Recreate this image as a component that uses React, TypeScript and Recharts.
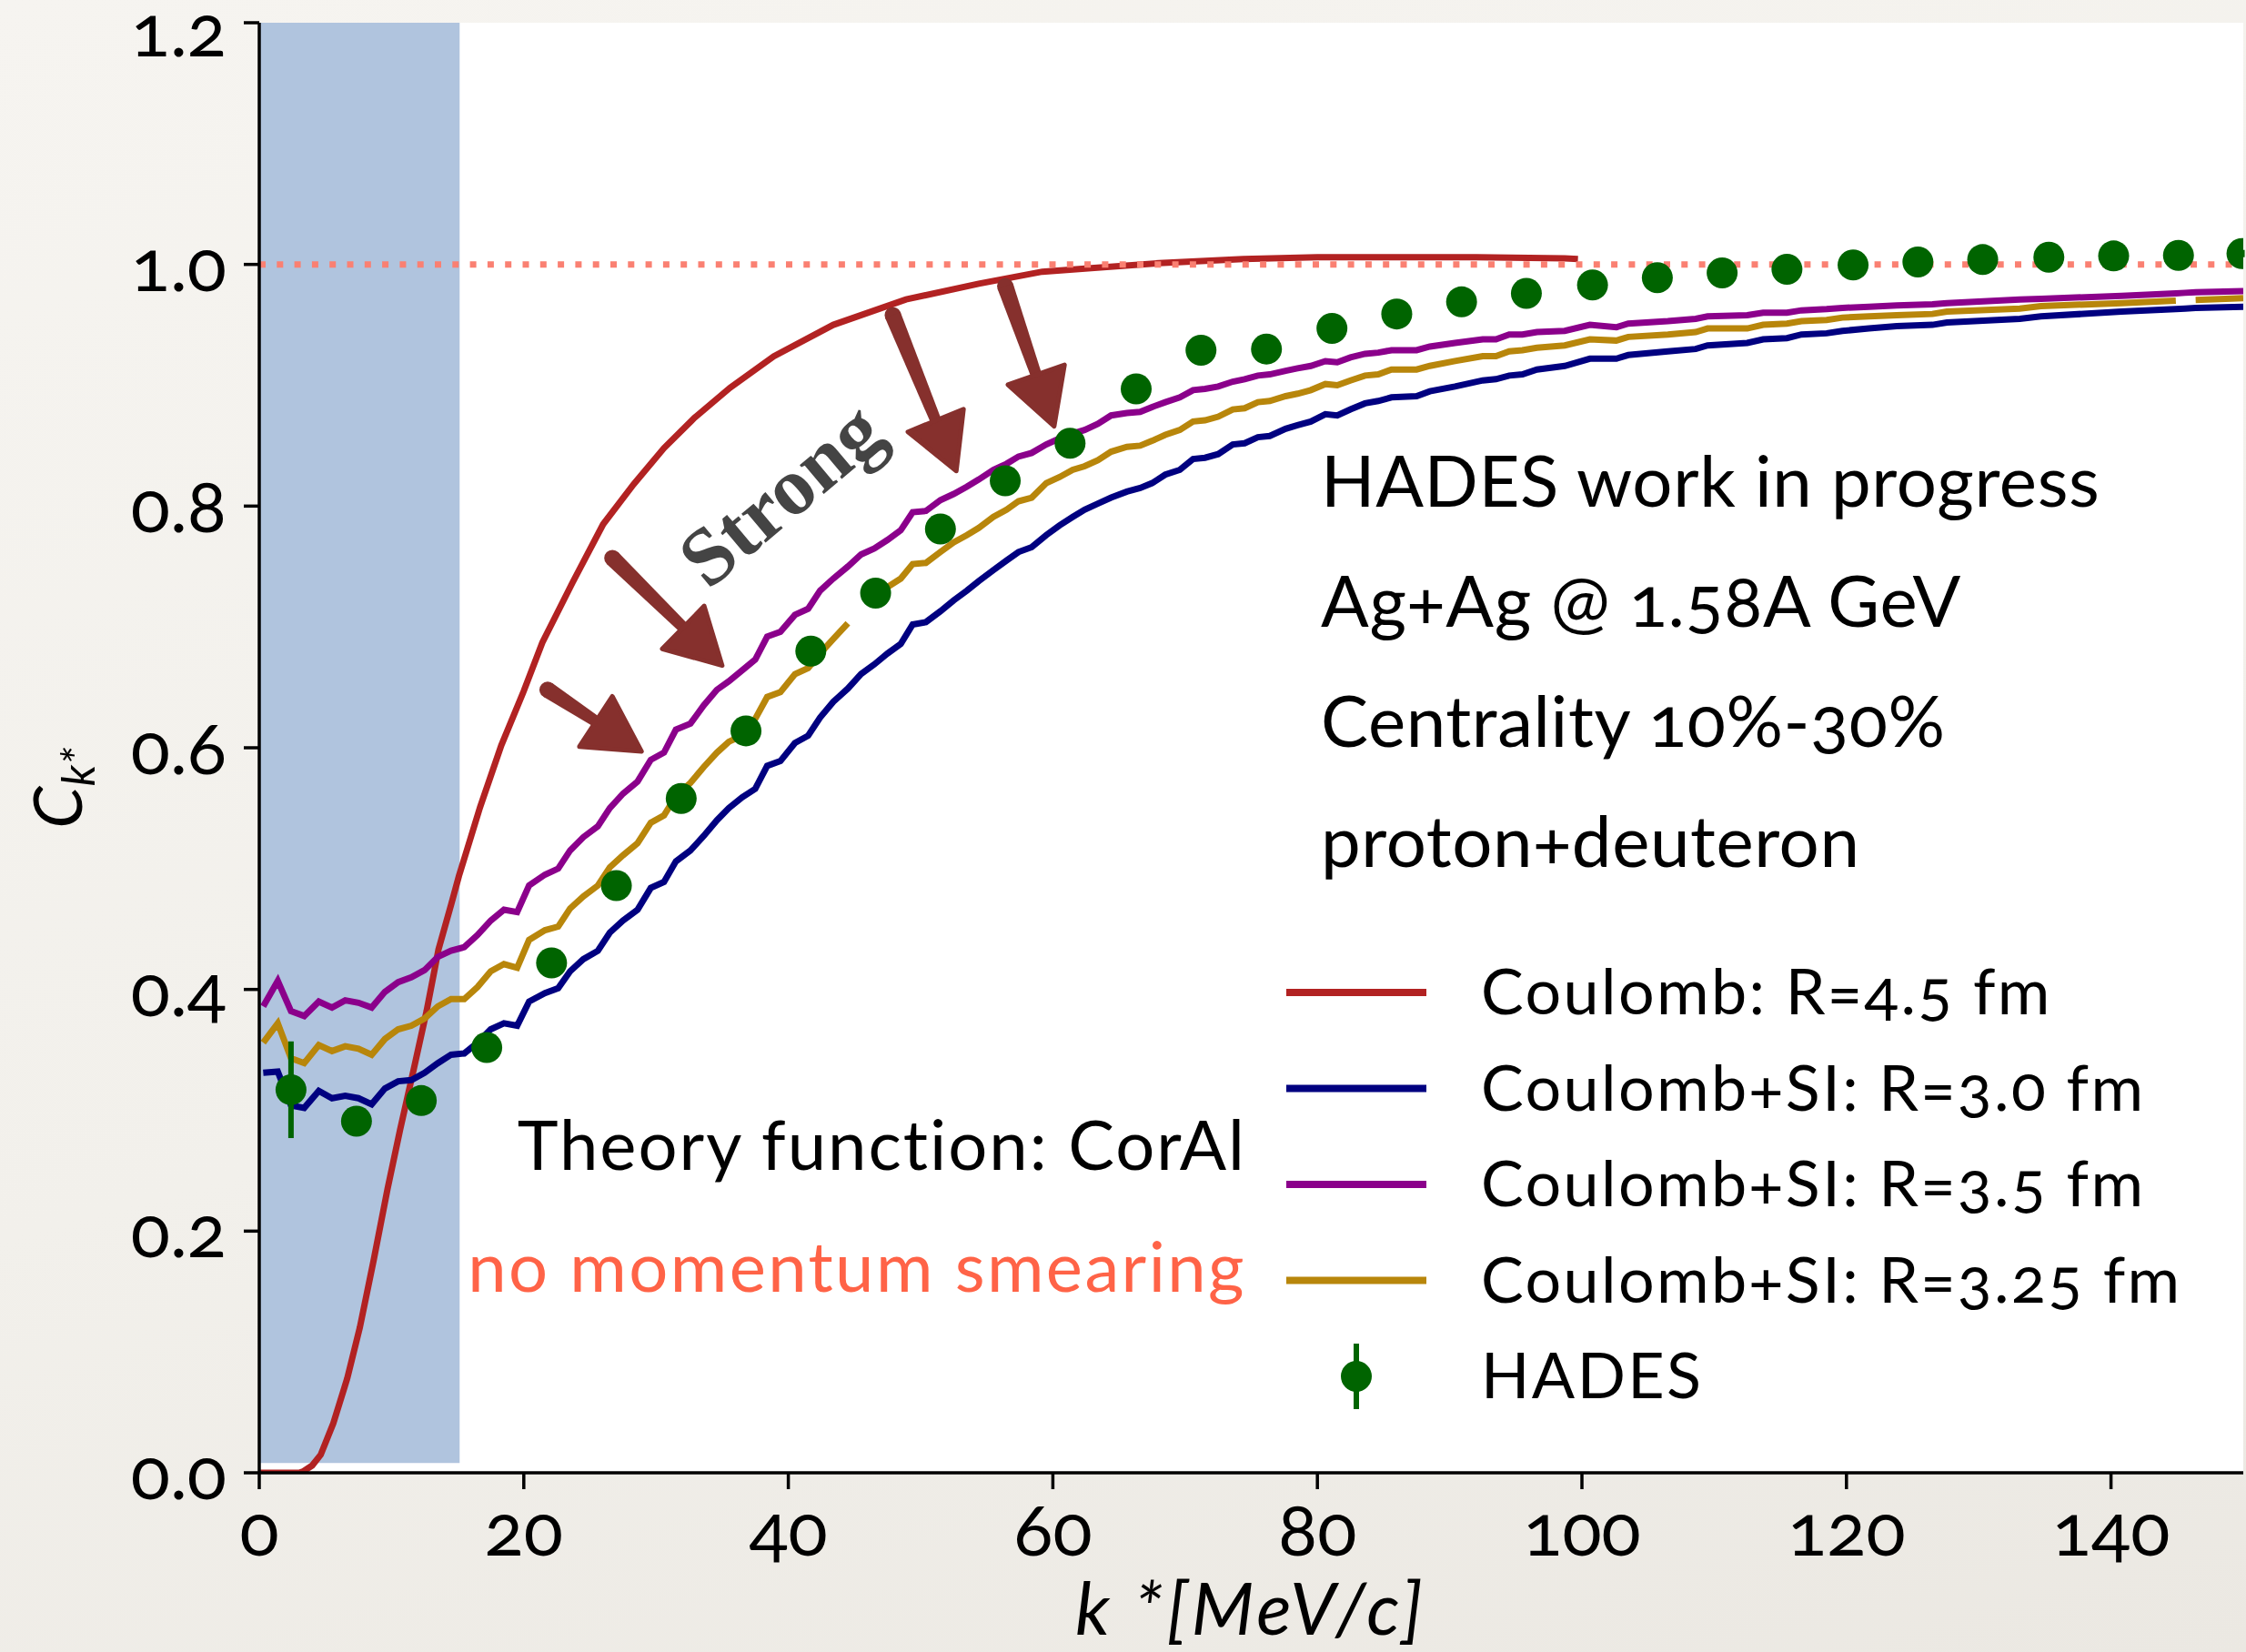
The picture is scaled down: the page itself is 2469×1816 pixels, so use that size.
import { createContext, useContext, useState } from 'react'
import { createPortal } from 'react-dom'
import {
  ComposedChart,
  ErrorBar,
  Line,
  ReferenceArea,
  ReferenceDot,
  ReferenceLine,
  Scatter,
  XAxis,
  YAxis,
} from 'recharts'

const FONT = 'Lato'
const W = 2469
const H = 1816
const TICK_SIZE = 80
const OLDSTYLE = { fontVariantNumeric: 'oldstyle-nums', fontFeatureSettings: '"onum" 1' } as const

// Coulomb-only CorAl curve, R = 4.5 fm
const coulombK = [
  0, 1, 2, 3, 3.3, 4, 4.65, 5.6, 6.65, 7.6, 8.65, 9.7, 10.65, 11.7, 12.65, 13.55, 14.5, 15.1, 16.7,
  18.3, 20, 21.4, 23.7, 26, 28.3, 30.6, 32.9, 35.6, 38.9, 43.4, 48.9, 54.4, 59.2, 62.9, 68, 74.4, 80,
  85.8, 92, 98.7, 99.7,
]
const coulombC = [
  0, 0, 0, 0, 0.001, 0.006, 0.015, 0.041, 0.078, 0.12, 0.176, 0.235, 0.284, 0.335, 0.382, 0.433, 0.47,
  0.494, 0.551, 0.602, 0.647, 0.687, 0.737, 0.785, 0.818, 0.848, 0.873, 0.898, 0.924, 0.95, 0.971,
  0.984, 0.994, 0.997, 1.001, 1.0045, 1.006, 1.006, 1.006, 1.005, 1.0045,
]

// Coulomb + strong interaction curves share one k* grid
const siK = [
  0.3, 1.4, 2.4, 3.4, 4.5, 5.5, 6.5, 7.5, 8.5, 9.5,
  10.5, 11.5, 12.5, 13.5, 14.5, 15.5, 16.5, 17.5, 18.5, 19.5,
  20.4, 21.6, 22.6, 23.5, 24.5, 25.6, 26.5, 27.5, 28.6, 29.6,
  30.6, 31.5, 32.6, 33.6, 34.6, 35.5, 36.5, 37.5, 38.4, 39.4,
  40.5, 41.5, 42.4, 43.4, 44.5, 45.5, 46.5, 47.5, 48.5, 49.4,
  50.4, 51.5, 52.5, 53.5, 54.4, 55.5, 56.5, 57.4, 58.4, 59.5,
  60.5, 61.5, 62.4, 63.4, 64.4, 65.6, 66.6, 67.5, 68.5, 69.6,
  70.6, 71.5, 72.5, 73.6, 74.5, 75.5, 76.4, 77.6, 78.5, 79.5,
  80.6, 81.5, 82.5, 83.6, 84.6, 85.6, 87.5, 88.5, 90.4, 92.5,
  93.5, 94.5, 95.5, 96.6, 98.7, 100.6, 102.6, 103.5, 106.5, 108.6,
  109.5, 112.5, 113.7, 115.5, 116.6, 118.5, 119.7, 121.7, 123.8, 126.5,
  127.6, 133.1, 134.7, 140.8, 144.9, 145.6, 146.4, 150,
]
const si30C = [
  0.331, 0.332, 0.304, 0.302, 0.316, 0.31, 0.312, 0.31, 0.305, 0.318,
  0.324, 0.325, 0.331, 0.339, 0.346, 0.347, 0.356, 0.367, 0.372, 0.37,
  0.39, 0.397, 0.401, 0.415, 0.425, 0.432, 0.447, 0.457, 0.466, 0.484,
  0.489, 0.506, 0.515, 0.527, 0.54, 0.55, 0.559, 0.566, 0.585, 0.589,
  0.604, 0.61, 0.625, 0.638, 0.649, 0.661, 0.669, 0.678, 0.686, 0.702,
  0.704, 0.713, 0.722, 0.73, 0.738, 0.747, 0.755, 0.762, 0.766, 0.776,
  0.784, 0.791, 0.797, 0.802, 0.807, 0.812, 0.815, 0.819, 0.826, 0.83,
  0.839, 0.84, 0.843, 0.851, 0.852, 0.857, 0.858, 0.864, 0.867, 0.87,
  0.876, 0.875, 0.88, 0.885, 0.887, 0.89, 0.891, 0.895, 0.899, 0.904,
  0.905, 0.908, 0.909, 0.913, 0.916, 0.922, 0.922, 0.925, 0.928, 0.93,
  0.933, 0.935, 0.938, 0.939, 0.942, 0.943, 0.945, 0.947, 0.949, 0.95,
  0.952, 0.955, 0.957, 0.961, 0.963, 0.9635, 0.964, 0.965,
]
const si35C = [
  0.386, 0.407, 0.382, 0.378, 0.39, 0.385, 0.391, 0.389, 0.385, 0.398,
  0.406, 0.41, 0.416, 0.427, 0.432, 0.435, 0.445, 0.457, 0.466, 0.464,
  0.486, 0.495, 0.5, 0.515, 0.526, 0.535, 0.55, 0.562, 0.572, 0.59,
  0.596, 0.615, 0.62, 0.635, 0.648, 0.655, 0.664, 0.673, 0.692, 0.696,
  0.71, 0.715, 0.73, 0.74, 0.75, 0.76, 0.765, 0.772, 0.78, 0.795,
  0.796, 0.805, 0.81, 0.816, 0.822, 0.83, 0.835, 0.841, 0.844, 0.851,
  0.856, 0.86, 0.863, 0.868, 0.875, 0.877, 0.878, 0.882, 0.886, 0.89,
  0.896, 0.897, 0.899, 0.903, 0.905, 0.908, 0.909, 0.912, 0.914, 0.916,
  0.92, 0.919, 0.923, 0.926, 0.927, 0.929, 0.929, 0.932, 0.935, 0.938,
  0.938, 0.942, 0.942, 0.944, 0.945, 0.95, 0.948, 0.951, 0.953, 0.955,
  0.957, 0.958, 0.96, 0.96, 0.962, 0.963, 0.964, 0.965, 0.966, 0.967,
  0.968, 0.971, 0.9715, 0.974, 0.976, 0.9765, 0.977, 0.978,
]
// null entries leave the two small gaps in this curve
const si325C = [
  0.356, 0.372, 0.343, 0.339, 0.354, 0.349, 0.353, 0.351, 0.346, 0.359,
  0.367, 0.37, 0.376, 0.386, 0.392, 0.392, 0.402, 0.415, 0.421, 0.418,
  0.441, 0.449, 0.452, 0.467, 0.477, 0.486, 0.501, 0.511, 0.521, 0.538,
  0.544, 0.56, 0.571, 0.584, 0.596, 0.605, 0.61, 0.624, 0.642, 0.646,
  0.661, 0.666, 0.678, 0.69, 0.703, null, 0.724, 0.733, 0.74, 0.752,
  0.753, 0.762, 0.77, 0.776, 0.782, 0.791, 0.797, 0.804, 0.807, 0.819,
  0.824, 0.83, 0.833, 0.838, 0.845, 0.849, 0.85, 0.854, 0.859, 0.863,
  0.87, 0.871, 0.874, 0.88, 0.881, 0.886, 0.887, 0.891, 0.893, 0.896,
  0.901, 0.9, 0.904, 0.908, 0.909, 0.913, 0.913, 0.916, 0.92, 0.924,
  0.924, 0.928, 0.929, 0.931, 0.933, 0.938, 0.937, 0.94, 0.942, 0.944,
  0.947, 0.947, 0.95, 0.951, 0.953, 0.954, 0.956, 0.957, 0.958, 0.959,
  0.961, 0.9635, 0.9655, 0.968, 0.97, null, 0.9705, 0.972,
]

// HADES measured correlation
const hadesK = [
  2.4, 7.35, 12.25, 17.2, 22.1, 27.0, 31.9, 36.8, 41.7, 46.6, 51.5, 56.4, 61.3, 66.3, 71.2, 76.15,
  81.1, 86.0, 90.9, 95.8, 100.8, 105.7, 110.6, 115.5, 120.5, 125.4, 130.3, 135.3, 140.2, 145.1, 149.9,
]
const hadesC = [
  0.317, 0.291, 0.308, 0.352, 0.422, 0.486, 0.558, 0.614, 0.68, 0.728, 0.781, 0.821, 0.852, 0.897,
  0.929, 0.93, 0.947, 0.959, 0.969, 0.976, 0.983, 0.989, 0.993, 0.996, 0.9995, 1.002, 1.004, 1.006,
  1.007, 1.0075, 1.009,
]
const hadesErr = [
  0.04, 0.011, 0.01, 0.009, 0.008, 0.007, 0.007, 0.006, 0.006, 0.006, 0.005, 0.005, 0.005, 0.005,
  0.005, 0.005, 0.004, 0.004, 0.004, 0.004, 0.004, 0.004, 0.004, 0.003, 0.003, 0.003, 0.003, 0.003,
  0.003, 0.003, 0.003,
]

// "Strong" arrows: tail -> tip in data coordinates
const arrowTailK = [21.8, 26.7, 47.9, 56.4]
const arrowTailC = [0.648, 0.757, 0.958, 0.982]
const arrowTipK = [28.9, 35.0, 52.7, 60.1]
const arrowTipC = [0.597, 0.668, 0.829, 0.866]

const kTicks = [0, 20, 40, 60, 80, 100, 120, 140]
const cTicks = [0, 0.2, 0.4, 0.6, 0.8, 1.0, 1.2]
const lowKCut = 15.15

const infoLines = ['HADES work in progress', 'Ag+Ag @ 1.58A GeV', 'Centrality 10%-30%', 'proton+deuteron']

const COLORS = {
  coulomb: '#b22222',
  si30: '#000080',
  si35: '#8b008b',
  si325: '#b8860b',
  hades: '#006400',
  arrow: '#86302d',
}

const legendItems = [
  { label: 'Coulomb: R=4.5 fm', color: COLORS.coulomb },
  { label: 'Coulomb+SI: R=3.0 fm', color: COLORS.si30 },
  { label: 'Coulomb+SI: R=3.5 fm', color: COLORS.si35 },
  { label: 'Coulomb+SI: R=3.25 fm', color: COLORS.si325 },
]

const toPoints = (k: number[], c: (number | null)[]) => k.map((x, i) => ({ k: x, c: c[i] }))

const coulombData = toPoints(coulombK, coulombC)
const si30Data = toPoints(siK, si30C)
const si35Data = toPoints(siK, si35C)
const si325Data = toPoints(siK, si325C)
const hadesData = hadesK.map((k, i) => ({ k, c: hadesC[i], err: hadesErr[i] }))

// Tick labels are portalled into the text layer; lang="en" lets digit-only
// strings shape as Latin so the oldstyle figures apply
const TextLayer = createContext<SVGGElement | null>(null)

function XTick(props: any) {
  const layer = useContext(TextLayer)
  const { x, y, payload } = props
  if (!layer) return null
  return createPortal(
    <text lang="en" x={x} y={y + 73} textAnchor="middle" fontSize={TICK_SIZE} fill="#000" style={OLDSTYLE}>
      {String(payload?.value ?? '')}
    </text>,
    layer,
  )
}

function YTick(props: any) {
  const layer = useContext(TextLayer)
  const { x, y, payload } = props
  const v = payload?.value
  if (!layer) return null
  return createPortal(
    <text
      lang="en"
      x={x}
      y={Math.max(y + 29, 62)}
      textAnchor="end"
      fontSize={TICK_SIZE}
      fill="#000"
      style={OLDSTYLE}
    >
      {typeof v === 'number' ? v.toFixed(1) : String(v ?? '')}
    </text>,
    layer,
  )
}

function Arrow(props: any) {
  const { x1, y1, x2, y2 } = props
  const dx = x2 - x1
  const dy = y2 - y1
  const len = Math.hypot(dx, dy) || 1
  const ux = dx / len
  const uy = dy / len
  const px = -uy
  const py = ux
  const headLen = 60
  const headHalf = 33
  const bx = x2 - ux * headLen
  const by = y2 - uy * headLen
  const shaft = [
    [x1 + px * 9, y1 + py * 9],
    [bx + ux * 6 + px * 6, by + uy * 6 + py * 6],
    [bx + ux * 6 - px * 6, by + uy * 6 - py * 6],
    [x1 - px * 9, y1 - py * 9],
  ]
  const head = [
    [x2, y2],
    [bx + px * headHalf, by + py * headHalf],
    [bx - px * headHalf, by - py * headHalf],
  ]
  return (
    <g>
      <circle cx={x1} cy={y1} r={9} fill={COLORS.arrow} />
      <polygon points={shaft.map((p) => p.join(',')).join(' ')} fill={COLORS.arrow} />
      <polygon
        points={head.map((p) => p.join(',')).join(' ')}
        fill={COLORS.arrow}
        stroke={COLORS.arrow}
        strokeWidth={5}
        strokeLinejoin="round"
      />
    </g>
  )
}

function HadesDot(props: any) {
  const { cx, cy } = props
  if (typeof cx !== 'number' || typeof cy !== 'number') return <g />
  return <circle cx={cx} cy={cy} r={17} fill={COLORS.hades} />
}

function StrongLabel(props: any) {
  const { cx, cy } = props
  return (
    <text
      x={cx}
      y={cy}
      transform={`rotate(-40 ${cx} ${cy})`}
      textAnchor="middle"
      dominantBaseline="central"
      fill="#444"
      fontSize={90}
      fontWeight={700}
      fontFamily='"Liberation Serif", "DejaVu Serif", serif'
    >
      Strong
    </text>
  )
}

// Static text layer on top of the chart: annotations, legend, axis titles, tick labels
function Annotations({ onLayer }: { onLayer: (g: SVGGElement | null) => void }) {
  const legendTop = 1091
  const rowGap = 105.5
  return (
    <svg
      lang="en"
      width={W}
      height={H}
      style={{ position: 'absolute', left: 0, top: 0, pointerEvents: 'none', ...OLDSTYLE }}
      fontFamily={FONT}
    >
      <g ref={onLayer} />
      {infoLines.map((t, i) => (
        <text key={t} x={1452} y={557 + i * 132} fontSize={78} letterSpacing={0.6} fill="#000">
          {t}
        </text>
      ))}
      <text x={1370} y={1286} fontSize={76} letterSpacing={2} textAnchor="end" fill="#000">
        Theory function: CorAl
      </text>
      <text x={1370} y={1420} fontSize={76} letterSpacing={2.4} textAnchor="end" fill="#ff6347">
        no momentum smearing
      </text>

      {legendItems.map((it, i) => {
        const y = legendTop + i * rowGap
        return (
          <g key={it.label}>
            <line x1={1414} x2={1568} y1={y} y2={y} stroke={it.color} strokeWidth={8} />
            <text x={1628} y={y} dy={24} fontSize={70} letterSpacing={2.4} fill="#000">
              {it.label}
            </text>
          </g>
        )
      })}
      <line x1={1491} x2={1491} y1={1477} y2={1549} stroke={COLORS.hades} strokeWidth={6} />
      <circle cx={1491} cy={1513} r={17} fill={COLORS.hades} />
      <text x={1628} y={1513} dy={24} fontSize={70} letterSpacing={2.4} fill="#000">
        HADES
      </text>

      <text
        x={1375}
        y={1797}
        fontSize={80}
        letterSpacing={4}
        fontStyle="italic"
        textAnchor="middle"
        fill="#000"
      >
        k *[MeV/c]
      </text>
      <text
        transform="translate(90 866) rotate(-90)"
        fontSize={74}
        fontStyle="italic"
        textAnchor="middle"
        fill="#000"
      >
        C
        <tspan fontSize={50} dy={14}>
          k*
        </tspan>
      </text>
    </svg>
  )
}

export default function App() {
  const [layer, setLayer] = useState<SVGGElement | null>(null)
  const axisStroke = { stroke: '#000', strokeWidth: 3.5 }
  return (
    <div
      lang="en"
      style={{
        position: 'absolute',
        left: 0,
        top: 0,
        width: W,
        height: H,
        background: 'linear-gradient(165deg, #f6f4f0 0%, #f2f0eb 55%, #ebe8e2 100%)',
        fontFamily: FONT,
      }}
    >
      <TextLayer.Provider value={layer}>
        <ComposedChart width={W} height={H} margin={{ top: 25, right: 3, bottom: 0, left: 0 }}>
          <XAxis
            type="number"
            dataKey="k"
            domain={[0, 150]}
            ticks={kTicks}
            interval={0}
            allowDataOverflow
            height={197}
            axisLine={axisStroke}
            tickLine={axisStroke}
            tickSize={18}
            tickMargin={0}
            tick={<XTick />}
          />
          <XAxis
            xAxisId="top"
            orientation="top"
            type="number"
            domain={[0, 150]}
            height={0}
            tick={false}
            tickLine={false}
            axisLine={axisStroke}
          />
          <YAxis
            type="number"
            domain={[0, 1.2]}
            ticks={cTicks}
            interval={0}
            allowDataOverflow
            width={285}
            axisLine={axisStroke}
            tickLine={axisStroke}
            tickSize={17}
            tickMargin={19}
            tick={<YTick />}
          />
          <YAxis
            yAxisId="right"
            orientation="right"
            type="number"
            domain={[0, 1.2]}
            width={0}
            tick={false}
            tickLine={false}
            axisLine={axisStroke}
          />

          <ReferenceArea x1={0} x2={150} y1={0} y2={1.2} fill="#ffffff" fillOpacity={1} stroke="none" />
          <ReferenceArea x1={0} x2={lowKCut} y1={0.008} y2={1.2} fill="#b0c4de" fillOpacity={1} stroke="none" />

          <Line
            data={coulombData}
            dataKey="c"
            type="linear"
            stroke={COLORS.coulomb}
            strokeWidth={7}
            dot={false}
            activeDot={false}
            isAnimationActive={false}
          />
          <Line
            data={si30Data}
            dataKey="c"
            type="linear"
            stroke={COLORS.si30}
            strokeWidth={7}
            dot={false}
            activeDot={false}
            isAnimationActive={false}
          />
          <Line
            data={si35Data}
            dataKey="c"
            type="linear"
            stroke={COLORS.si35}
            strokeWidth={7}
            dot={false}
            activeDot={false}
            isAnimationActive={false}
          />
          <Line
            data={si325Data}
            dataKey="c"
            type="linear"
            stroke={COLORS.si325}
            strokeWidth={7}
            dot={false}
            activeDot={false}
            connectNulls={false}
            isAnimationActive={false}
          />

          <ReferenceLine y={1} stroke="#fa8072" strokeWidth={7} strokeDasharray="7 12.3" />

          <Scatter data={hadesData} dataKey="c" shape={<HadesDot />} isAnimationActive={false}>
            <ErrorBar dataKey="err" direction="y" width={0} stroke={COLORS.hades} strokeWidth={6} isAnimationActive={false} />
          </Scatter>

          {arrowTailK.map((k, i) => (
            <ReferenceLine
              key={`arrow-${i}`}
              segment={[
                { x: k, y: arrowTailC[i] },
                { x: arrowTipK[i], y: arrowTipC[i] },
              ]}
              shape={<Arrow />}
            />
          ))}
          <ReferenceDot x={39.4} y={0.81} r={1} shape={<StrongLabel />} />
        </ComposedChart>
      </TextLayer.Provider>
      <Annotations onLayer={setLayer} />
    </div>
  )
}
